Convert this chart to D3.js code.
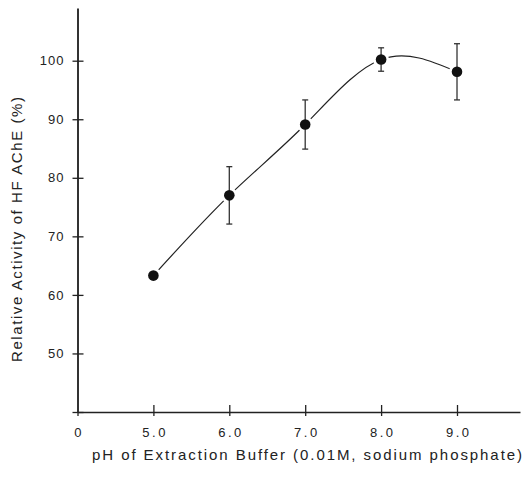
<!DOCTYPE html>
<html>
<head>
<meta charset="utf-8">
<script src="https://cdn.jsdelivr.net/npm/d3@7"></script>
<style>
  body { margin: 0; background: #fff; }
  svg text { font-family: "Liberation Sans", Arial, sans-serif; fill: #222; }
</style>
</head>
<body>
<div id="chart"></div>
<script>
// values
var phValues = [5, 6, 7, 8, 9];
var activity = [63.3, 77.0, 89.1, 100.2, 98.1];
var errors = [0, 4.9, 4.2, 2.0, 4.8];

var xTicks = [4, 5, 6, 7, 8, 9];
var yTicks = [40, 50, 60, 70, 80, 90, 100];

var width = 524,
    height = 486;

var svg = d3.select("#chart").append("svg")
    .attr("width", width)
    .attr("height", height);

// broken axis: the origin is labelled 0 but sits one unit left of 5.0
var x = d3.scaleLinear()
    .domain([4, 9.83])
    .range([77.5, 520]);

var y = d3.scaleLinear()
    .domain([40, 109])
    .range([412, 8]);

var points = phValues.map(function (p, i) {
    return { ph: p, value: activity[i], err: errors[i] };
});

// x axis
var xAxis = svg.append("g")
    .attr("transform", "translate(0," + y(40) + ")")
    .call(d3.axisBottom(x)
        .tickValues(xTicks)
        .tickSize(0)
        .tickPadding(16)
        .tickFormat(function (d) { return d === 4 ? "0" : d.toFixed(1); }));
xAxis.select(".domain").attr("stroke", "#222").attr("stroke-width", 1.6);
xAxis.selectAll(".tick text")
    .style("font-size", "13px")
    .style("letter-spacing", "2.5px")
    .attr("dx", "1.2px");
xAxis.selectAll(".tick").append("line")
    .attr("y1", -7)
    .attr("y2", 4)
    .attr("stroke", "#222")
    .attr("stroke-width", 1.3);

// y axis
var yAxis = svg.append("g")
    .attr("transform", "translate(" + x(4) + ",0)")
    .call(d3.axisLeft(y)
        .tickValues(yTicks)
        .tickSize(0)
        .tickPadding(13)
        .tickFormat(function (d) { return d === 40 ? "" : d; }));
yAxis.select(".domain").attr("stroke", "#333").attr("stroke-width", 2);
yAxis.selectAll(".tick text")
    .style("font-size", "13px")
    .style("letter-spacing", "1px");
yAxis.selectAll(".tick").append("line")
    .attr("x1", -5)
    .attr("x2", 6)
    .attr("stroke", "#222")
    .attr("stroke-width", 1.3);

// fitted curve
var line = d3.line()
    .x(function (d) { return x(d.ph); })
    .y(function (d) { return y(d.value); })
    .curve(d3.curveNatural);

svg.append("path")
    .datum(points)
    .attr("d", line)
    .attr("fill", "none")
    .attr("stroke", "#222")
    .attr("stroke-width", 1.2);

// gap around each marker, like the original
svg.selectAll(".gap")
    .data(points)
    .enter()
    .append("circle")
    .attr("class", "gap")
    .attr("cx", function (d) { return x(d.ph); })
    .attr("cy", function (d) { return y(d.value); })
    .attr("r", 8)
    .attr("fill", "#fff");

// error bars
var bars = svg.selectAll(".err")
    .data(points.filter(function (d) { return d.err > 0; }))
    .enter()
    .append("g")
    .attr("class", "err")
    .attr("stroke", "#333")
    .attr("stroke-width", 1.3);

bars.append("line")
    .attr("x1", function (d) { return x(d.ph); })
    .attr("x2", function (d) { return x(d.ph); })
    .attr("y1", function (d) { return y(d.value + d.err); })
    .attr("y2", function (d) { return y(d.value - d.err); });

bars.append("line")
    .attr("x1", function (d) { return x(d.ph) - 3; })
    .attr("x2", function (d) { return x(d.ph) + 3; })
    .attr("y1", function (d) { return y(d.value + d.err); })
    .attr("y2", function (d) { return y(d.value + d.err); });

bars.append("line")
    .attr("x1", function (d) { return x(d.ph) - 3; })
    .attr("x2", function (d) { return x(d.ph) + 3; })
    .attr("y1", function (d) { return y(d.value - d.err); })
    .attr("y2", function (d) { return y(d.value - d.err); });

// markers
svg.selectAll(".dot")
    .data(points)
    .enter()
    .append("circle")
    .attr("class", "dot")
    .attr("cx", function (d) { return x(d.ph); })
    .attr("cy", function (d) { return y(d.value); })
    .attr("r", 5.3)
    .attr("fill", "#111");

// axis titles
svg.append("text")
    .attr("x", 92)
    .attr("y", 460)
    .attr("textLength", 430)
    .attr("lengthAdjust", "spacing")
    .style("font-size", "15px")
    .text("pH of Extraction Buffer (0.01M, sodium phosphate)");

svg.append("text")
    .attr("transform", "translate(22,362) rotate(-90)")
    .attr("textLength", 265)
    .attr("lengthAdjust", "spacing")
    .style("font-size", "15px")
    .text("Relative Activity of HF AChE (%)");
</script>
</body>
</html>
